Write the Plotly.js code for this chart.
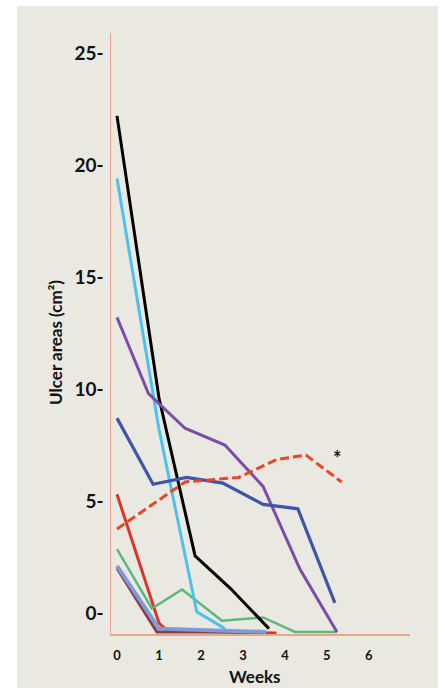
<!DOCTYPE html>
<html><head><meta charset="utf-8">
<script src="https://cdn.plot.ly/plotly-3.0.1.min.js"></script>
<style>
html,body{margin:0;padding:0;background:#ffffff;width:445px;height:688px;overflow:hidden;}
#chart{position:absolute;left:17px;top:6px;width:421px;height:682px;}
</style></head>
<body><div id="chart"></div>
<script>
// Weeks (x) and ulcer areas (y) per patient
const redSolidX = [0, 1, 1.2, 3.8];
const redSolidY = [5.3, -0.45, -0.8, -0.9];
const maroonX = [0, 0.95, 3.5];
const maroonY = [2.0, -0.85, -0.85];
const steelX = [0, 1, 3.55];
const steelY = [2.1, -0.7, -0.85];
const greenX = [0, 0.83, 1.55, 2.5, 3.48, 4.24, 5.24];
const greenY = [2.85, 0.2, 1.05, -0.35, -0.2, -0.85, -0.85];
const cyanX = [0, 1, 1.9, 2.57];
const cyanY = [19.4, 8.2, 0.05, -0.7];
const blackX = [0, 1, 1.86, 2.7, 3.62];
const blackY = [22.2, 9.6, 2.55, 1.1, -0.7];
const purpleX = [0, 0.75, 1.62, 2.57, 3.48, 4.36, 5.24];
const purpleY = [13.2, 9.8, 8.25, 7.5, 5.65, 1.95, -0.85];
const blueX = [0, 0.86, 1.66, 2.52, 3.48, 4.31, 5.19];
const blueY = [8.7, 5.75, 6.05, 5.8, 4.85, 4.65, 0.45];
const redDashX = [0, 1.62, 2.9, 3.8, 4.5, 5.35];
const redDashY = [3.75, 5.85, 6.05, 6.85, 7.05, 5.85];

const yTickVals = [0, 5, 10, 15, 20, 25];
const yTickText = ["0-", "5-", "10-", "15-", "20-", "25-"];
const xTickVals = [0, 1, 2, 3, 4, 5, 6];
const xTickText = ["0", "1", "2", "3", "4", "5", "6"];

function tr(x, y, color, width, dash) {
  return {x: x, y: y, type: 'scatter', mode: 'lines',
    line: {color: color, width: width, dash: dash || 'solid'},
    hoverinfo: 'skip', showlegend: false};
}

const data = [
  tr(redSolidX, redSolidY, '#d8362a', 3),
  tr(maroonX, maroonY, '#8a3c4e', 3),
  tr(steelX, steelY, '#7f9ad4', 4),
  tr(greenX, greenY, '#5cb87c', 2.5),
  tr(cyanX, cyanY, '#4dc0ec', 3),
  tr(blackX, blackY, '#000000', 3),
  tr(purpleX, purpleY, '#7a4ea8', 3),
  tr(blueX, blueY, '#3f55a8', 3.2),
  tr(redDashX, redDashY, '#e8452e', 3, '9px,4px')
];

const font = 'Lato, "Open Sans", "Liberation Sans", sans-serif';
const layout = {
  width: 421, height: 682,
  margin: {l: 94, r: 28, t: 27, b: 54},
  paper_bgcolor: '#e9e9e1',
  plot_bgcolor: 'rgba(0,0,0,0)',
  font: {family: font, color: '#111111'},
  showlegend: false,
  xaxis: {
    range: [-0.143, 6.98], showgrid: false, zeroline: false,
    showline: true, linecolor: '#e3a98b', linewidth: 1.5,
    tickvals: xTickVals, ticktext: xTickText, ticks: '',
    ticklabelstandoff: 9,
    tickfont: {family: font, size: 13, color: '#111111', weight: 'bold'}
  },
  yaxis: {
    range: [-0.94, 25.9], showgrid: false, zeroline: false,
    showline: true, linecolor: '#e3a98b', linewidth: 1.5,
    tickvals: yTickVals, ticktext: yTickText, ticks: '',
    ticklabelstandoff: 2,
    tickfont: {family: font, size: 19, color: '#111111', weight: 'bold'}
  },
  annotations: [
    {xref: 'paper', yref: 'paper', x: -0.184, xanchor: 'center', y: 0.486, yanchor: 'middle',
     text: '<b>Ulcer areas (cm²)</b>',
     textangle: -90, showarrow: false, font: {family: font, size: 17, color: '#111111'}},
    {xref: 'paper', yref: 'paper', x: 0.48, y: -0.0715, yanchor: 'middle', text: '<b>Weeks</b>',
     showarrow: false, font: {family: font, size: 17, color: '#111111'}},
    {xref: 'x', yref: 'y', x: 5.25, y: 6.9, text: '<b>*</b>', showarrow: false,
     font: {family: font, size: 20, color: '#111111'}}
  ]
};

Plotly.newPlot('chart', data, layout, {displayModeBar: false, staticPlot: true});
</script></body></html>
